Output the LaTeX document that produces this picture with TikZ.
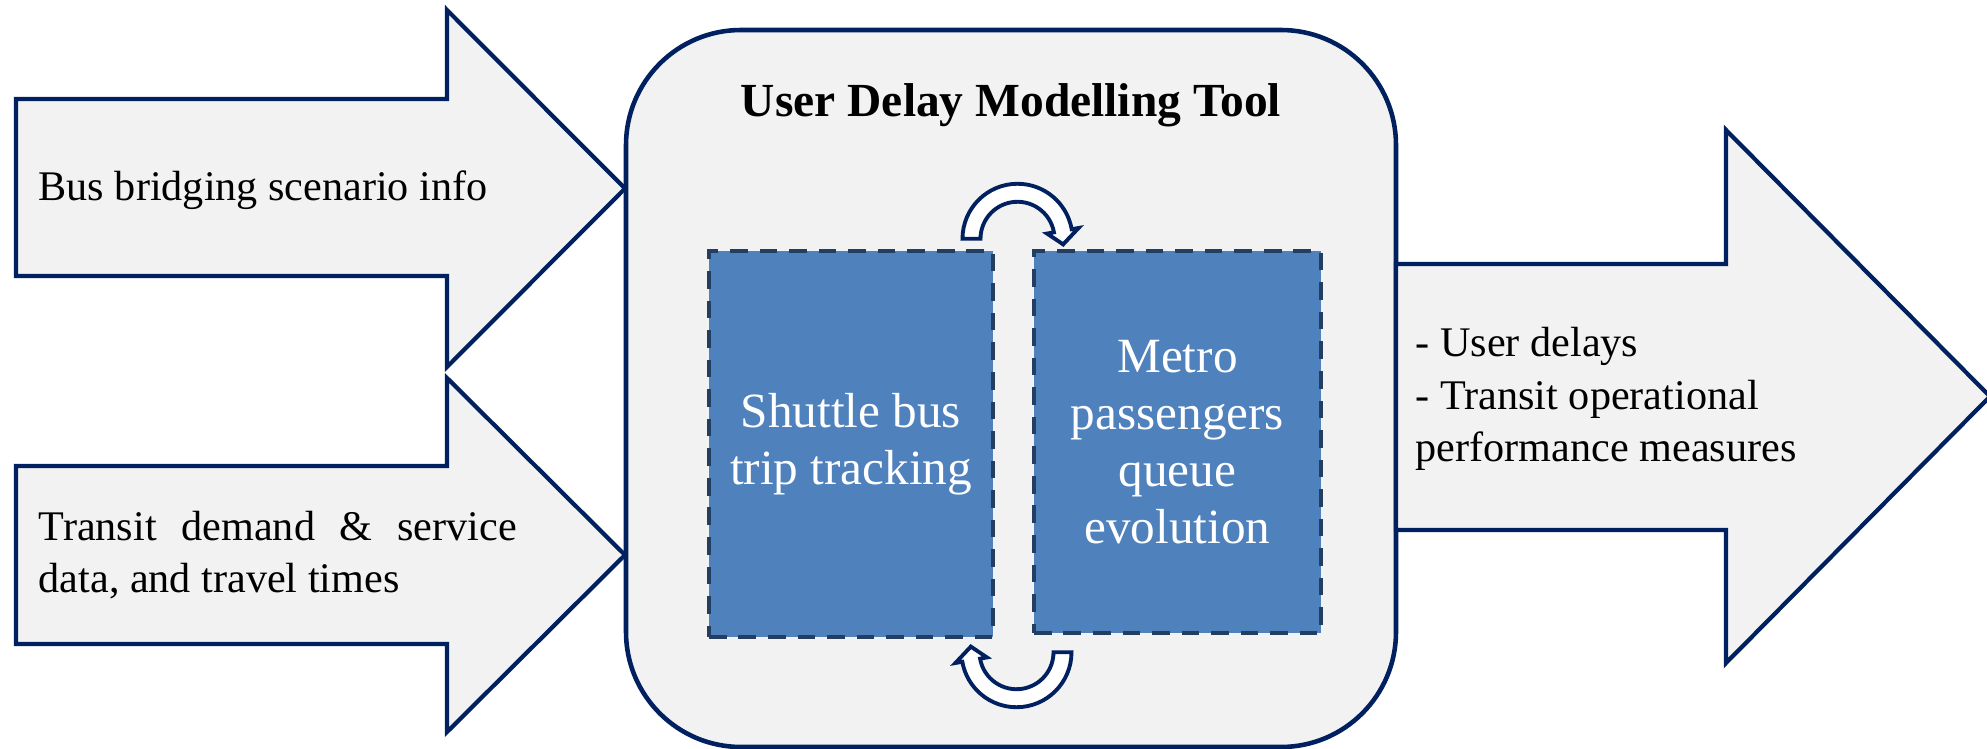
\documentclass[tikz,border=0pt]{standalone}
\usepackage{fontspec}
\setmainfont{Liberation Serif}
\usetikzlibrary{calc}
\definecolor{navy}{RGB}{0,32,96}
\definecolor{panel}{RGB}{242,242,242}
\definecolor{stageblue}{RGB}{79,129,189}
\definecolor{stageedge}{RGB}{36,62,98}
\newcommand{\fatarrow}[7]{\draw[flow] (#1,#2) -- (#4,#2) -- (#4,#5) -- (#7,{(#5+#6)/2}) -- (#4,#6) -- (#4,#3) -- (#1,#3) -- cycle; }
\newcommand{\swaparrow}[2]{\draw[turn] ($(#1)+(#2:55)$) arc[start angle=#2, end angle=#2+170, radius=55] -- ($(#1)+(#2+170:62)$) -- ($(#1)+(#2+187:46)$) -- ($(#1)+(#2+170:30)$) -- ($(#1)+(#2+170:37)$) arc[start angle=#2+170, end angle=#2, radius=37] -- cycle; }

\begin{document}
\begin{tikzpicture}[x=0.01cm,y=-0.01cm,line join=miter,
  flow/.style={draw=navy,fill=panel,line width=1.2pt},
  tool/.style={draw=navy,fill=panel,line width=1.3pt,rounded corners=1.15cm},
  stage/.style={draw=stageedge,fill=stageblue,line width=1.2pt,dash pattern=on 5pt off 3.4pt,text=white,align=center,font=\fontsize{14}{16.2}\selectfont},
  turn/.style={draw=navy,fill=white,line width=1.1pt},
  intext/.style={anchor=west,inner sep=0pt,align=left,font=\fontsize{12}{15}\selectfont}]
  \useasboundingbox (0,0) rectangle (1987,749);
  \draw[tool] (626,30) rectangle (1396,747);
  \fatarrow{16}{99}{276}{447}{10}{367}{625}
  \fatarrow{16}{466}{644}{447}{378}{732}{625}
  \fatarrow{1396}{264}{530}{1726}{130}{663}{1990}
  \node[font=\fontsize{13.5}{16}\selectfont\bfseries] (title) at (1011,105) {User Delay Modelling Tool};
  \node[stage,minimum width=2.84cm,minimum height=3.86cm] (trip) at (851,444) {Shuttle bus\\trip tracking};
  \node[stage,minimum width=2.87cm,minimum height=3.82cm] (queue) at (1177.5,442) {Metro\\passengers\\queue\\evolution};
  \coordinate (top) at ($($(trip.north east)!.5!(queue.north west)$)+(4,-10)$);
  \coordinate (bot) at ($($(trip.south east)!.5!(queue.south west)$)+(3,15)$);
  \swaparrow{top}{180}
  \swaparrow{bot}{0}
  \node[intext] (scen) at (38,190) {Bus bridging scenario info};
  \node[intext,text width=4.78cm,align=justify] (dem) at (38,555) {Transit demand \& service data, and travel times};
  \node[intext] (out) at (1415,399) {- User delays\\- Transit operational\\performance measures};
\end{tikzpicture}
\end{document}
